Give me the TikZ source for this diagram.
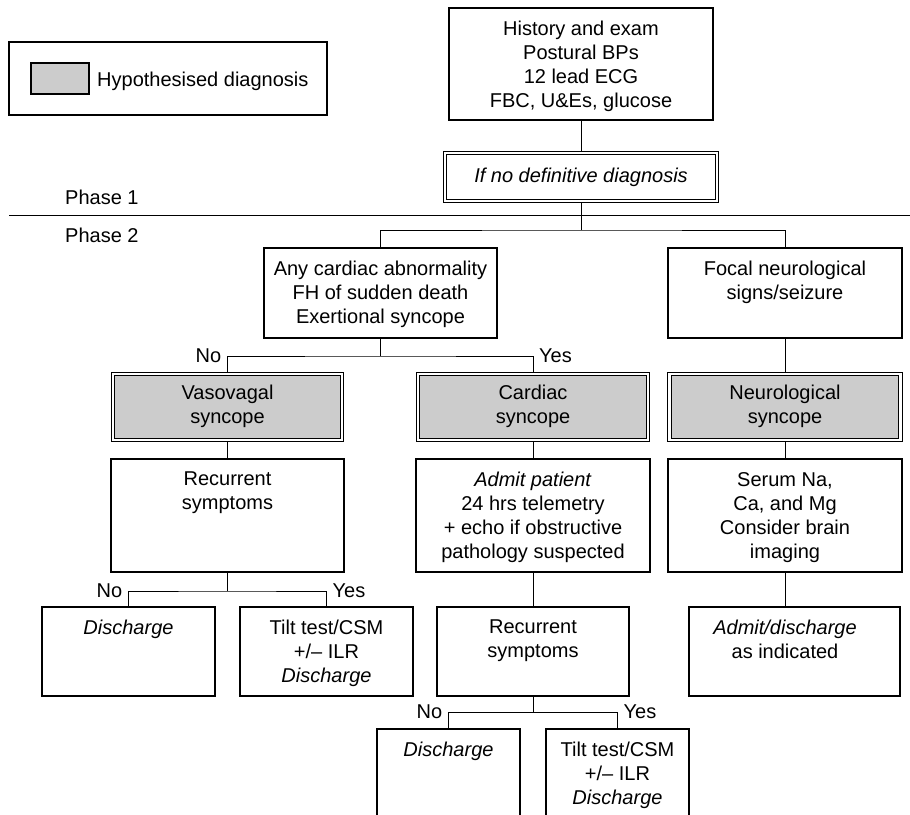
\documentclass[tikz,border=0pt]{standalone}
\usepackage{fontspec}
\setmainfont{Liberation Sans}

\tikzset{
  box/.style={draw, line width=1.1pt},
  dline/.style={draw, double, double distance=2.6pt, line width=1.1pt, outer sep=2.4pt},
  diag/.style={dline, fill=black!20},
  toptext/.style={label={[anchor=north, align=center, inner sep=0pt, yshift=-13.5pt]north:{#1}}},
  link/.style={line width=0.9pt},
  nolbl/.style={anchor=east, inner sep=0pt, text depth=0pt, xshift=-6pt},
  yeslbl/.style={anchor=west, inner sep=0pt, text depth=0pt, xshift=6pt}
}

\begin{document}
\begin{tikzpicture}[x=1pt, y=-1pt, font=\fontsize{20}{24}\selectfont]
    \useasboundingbox (0,0) rectangle (910,814);
    \clip (0,0) rectangle (910,814);

    % Legend
    \node[box, minimum width=318pt, minimum height=73pt] (legend) at (168,78.5) {};
    \node[box, fill=black!20, minimum width=58pt, minimum height=31pt] (swatch) at (60,78.5) {};
    \node[anchor=base west, inner sep=0pt] (legtext) at (97,86) {Hypothesised diagnosis};

    % Phase 1
    \node[box, minimum width=264pt, minimum height=112pt,
          toptext={History and exam\\Postural BPs\\12 lead ECG\\FBC, U\&Es, glucose}] (hist) at (581,64) {};
    \node[dline, minimum width=272pt, minimum height=48pt] (ifno) at (581,177) {\itshape If no definitive diagnosis};

    % Phase divider
    \draw[link] (9,215) -- (910,215);
    \node[anchor=base west, inner sep=0pt] (ph1) at (65,204) {Phase 1};
    \node[anchor=base west, inner sep=0pt] (ph2) at (65,242) {Phase 2};

    % Questions
    \node[box, minimum width=233pt, minimum height=90pt,
          toptext={Any cardiac abnormality\\FH of sudden death\\Exertional syncope}] (cardq) at (380.5,293) {};
    \node[box, minimum width=234pt, minimum height=90pt,
          toptext={Focal neurological\\signs/seizure}] (focal) at (785,293) {};

    % Hypothesised diagnoses
    \node[diag, minimum width=229pt, minimum height=66pt, toptext={Vasovagal\\syncope}] (vaso) at (227.5,407) {};
    \node[diag, minimum width=230pt, minimum height=66pt, toptext={Cardiac\\syncope}] (card) at (533,407) {};
    \node[diag, minimum width=231pt, minimum height=66pt, toptext={Neurological\\syncope}] (neuro) at (785,407) {};

    % Work-up
    \node[box, minimum width=233pt, minimum height=113pt, toptext={Recurrent\\symptoms}] (rec1) at (227.5,515.5) {};
    \node[box, minimum width=234pt, minimum height=113pt,
          toptext={\textit{Admit patient}\\24 hrs telemetry\\+ echo if obstructive\\pathology suspected}] (admit) at (533,515.5) {};
    \node[box, minimum width=234pt, minimum height=113pt,
          toptext={Serum Na,\\Ca, and Mg\\Consider brain\\imaging}] (serum) at (785,515.5) {};

    % Outcomes
    \node[box, minimum width=173pt, minimum height=89pt, toptext={\textit{Discharge}}] (dis1) at (128.5,651.5) {};
    \node[box, minimum width=173pt, minimum height=89pt,
          toptext={Tilt test/CSM\\+/– ILR\\\textit{Discharge}}] (tilt1) at (326.5,651.5) {};
    \node[box, minimum width=192pt, minimum height=89pt, toptext={Recurrent\\symptoms}] (rec2) at (533,651.5) {};
    \node[box, minimum width=211pt, minimum height=89pt,
          label={[anchor=north, align=center, inner sep=0pt, yshift=-13.5pt, xshift=-9.5pt]north:{\textit{Admit/discharge}\\as indicated}}] (adm2) at (794.5,651.5) {};
    \node[box, minimum width=143pt, minimum height=100pt, toptext={\textit{Discharge}}] (dis3) at (448.5,779) {};
    \node[box, minimum width=143pt, minimum height=100pt,
          toptext={Tilt test/CSM\\+/– ILR\\\textit{Discharge}}] (tilt3) at (617.5,779) {};

    % Connectors
    \coordinate (s1) at (581,230);
    \coordinate (s2) at (380.5,356);
    \coordinate (s3) at (227.5,591);
    \coordinate (s4) at (533,712);
    \draw[link] (hist) -- (ifno);
    \draw[link] (ifno) -- (s1);
    \draw[link] (cardq.north) |- (s1) -| (focal.north);
    \draw[link] (cardq) -- (s2);
    \draw[link] (vaso.north) |- (s2) -| (card.north);
    \draw[link] (focal) -- (neuro);
    \draw[link] (vaso) -- (rec1);
    \draw[link] (card) -- (admit);
    \draw[link] (neuro) -- (serum);
    \draw[link] (rec1) -- (s3);
    \draw[link] (dis1.north) |- (s3) -| (tilt1.north);
    \draw[link] (admit) -- (rec2);
    \draw[link] (serum.south) -- (serum.south |- adm2.north);
    \draw[link] (rec2) -- (s4);
    \draw[link] (dis3.north) |- (s4) -| (tilt3.north);

    % Yes/No
    \node[nolbl] (no1) at (vaso.north |- s2) {No};
    \node[yeslbl] (yes1) at (card.north |- s2) {Yes};
    \node[nolbl] (no2) at (dis1.north |- s3) {No};
    \node[yeslbl] (yes2) at (tilt1.north |- s3) {Yes};
    \node[nolbl] (no3) at (dis3.north |- s4) {No};
    \node[yeslbl] (yes3) at (tilt3.north |- s4) {Yes};
\end{tikzpicture}
\end{document}
